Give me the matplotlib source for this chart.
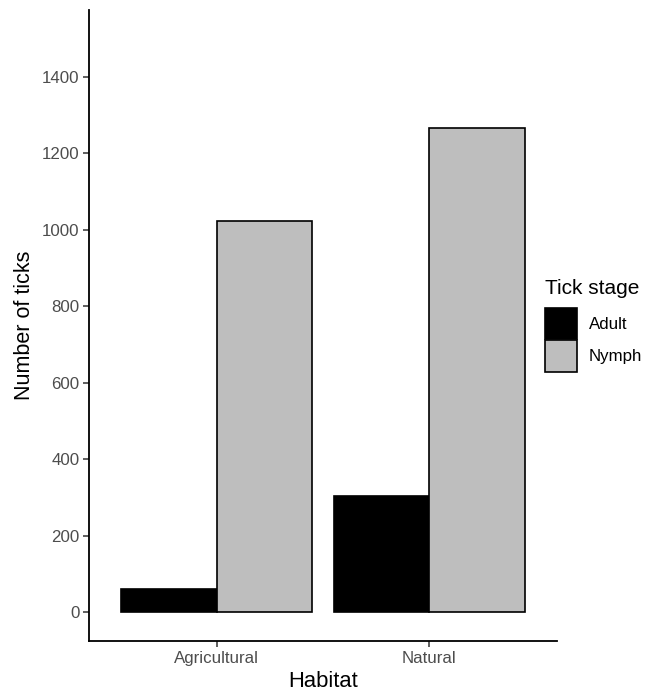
import matplotlib
matplotlib.use("Agg")
import matplotlib.pyplot as plt
from matplotlib.patches import Patch
import numpy as np

# tick counts per habitat and stage
habitats = ["Agricultural", "Natural"]
stages = ["Adult", "Nymph"]
adult = [62, 304]
nymph = [1023, 1267]
colors = ["#000000", "#BEBEBE"]

plt.rcParams["font.family"] = ["Liberation Sans", "DejaVu Sans"]

fig = plt.figure(figsize=(6.46, 6.94), dpi=100)
ax = fig.add_axes([0.1378, 0.0764, 0.724, 0.9092])

x = np.arange(1, len(habitats) + 1)
w = 0.45
ax.bar(x - w / 2, adult, width=w, color=colors[0], edgecolor="black", linewidth=1.2)
ax.bar(x + w / 2, nymph, width=w, color=colors[1], edgecolor="black", linewidth=1.2)

ax.set_xlim(0.4, 2.6)
ax.set_ylim(-75, 1575)
ax.set_xticks(x)
ax.set_xticklabels(habitats)
ax.set_yticks(np.arange(0, 1401, 200))

for s in ["top", "right"]:
    ax.spines[s].set_visible(False)
for s in ["left", "bottom"]:
    ax.spines[s].set_linewidth(1.3)
    ax.spines[s].set_color("black")

ax.tick_params(axis="both", length=4, width=1.1, color="#333333",
               labelcolor="#4D4D4D", labelsize=12.2, pad=3)

ax.set_xlabel("Habitat", fontsize=15.8, color="black", labelpad=4)
ax.set_ylabel("Number of ticks", fontsize=15.5, color="black", labelpad=5)

handles = [Patch(facecolor=colors[0], edgecolor="black", linewidth=1.2),
           Patch(facecolor=colors[1], edgecolor="black", linewidth=1.2)]
leg = fig.legend(handles, stages, title="Tick stage", loc="upper left",
                 bbox_to_anchor=(538 / 646, 1 - 272 / 694), frameon=False,
                 fontsize=12.2, title_fontsize=15, handlelength=1.9,
                 handleheight=2.5, handletextpad=0.7, labelspacing=0.05,
                 borderaxespad=0)
leg._legend_box.align = "left"
leg._legend_box.sep = 7

fig.savefig("out.png", dpi=100)
